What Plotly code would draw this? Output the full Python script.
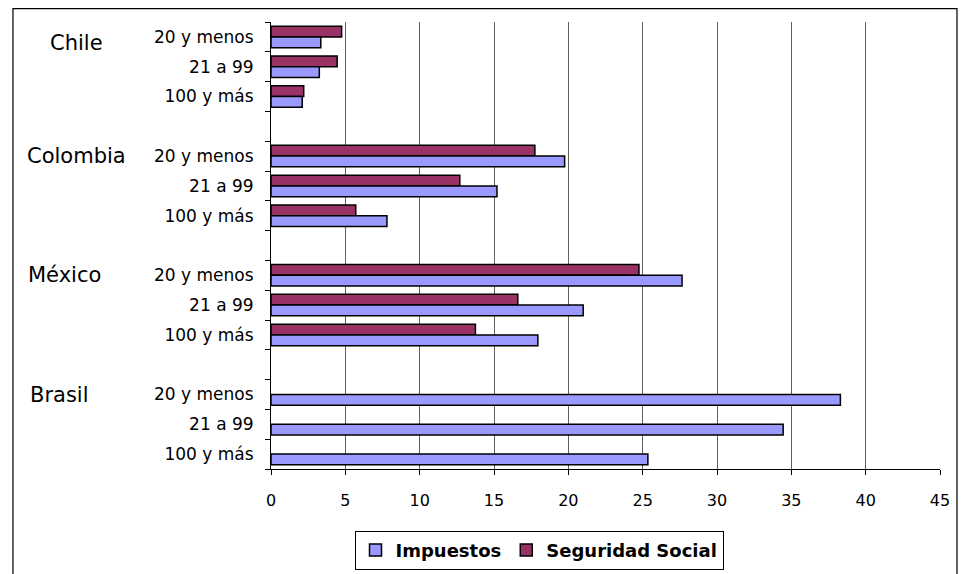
import plotly.graph_objects as go

countries = ["Chile", "Colombia", "México", "Brasil"]
sizes = ["20 y menos", "21 a 99", "100 y más"]

# values in order Chile, Colombia, México, Brasil; each: 20 y menos, 21 a 99, 100 y más
impuestos = [3.35, 3.25, 2.1,
             19.75, 15.2, 7.8,
             27.65, 21.0, 17.95,
             38.3, 34.45, 25.35]
seguridad_social = [4.75, 4.45, 2.2,
                    17.75, 12.7, 5.7,
                    24.75, 16.6, 13.75,
                    None, None, None]

# slot positions: each country uses 3 slots + 1 blank slot between groups
ypos = []
ticktext = []
for ci, c in enumerate(countries):
    for si, s in enumerate(sizes):
        ypos.append(ci * 4 + si)
        ticktext.append(s)
nslots = len(countries) * 4 - 1  # 15 slots: 0..14

font = "DejaVu Sans, Liberation Sans, Arial, sans-serif"

fig = go.Figure()
fig.add_trace(go.Bar(
    name="Seguridad Social", y=ypos, x=seguridad_social, orientation="h",
    marker=dict(color="#993366", line=dict(color="black", width=1.5)),
    legendrank=2,
))
fig.add_trace(go.Bar(
    name="Impuestos", y=ypos, x=impuestos, orientation="h",
    marker=dict(color="#9999FF", line=dict(color="black", width=1.5)),
    legendrank=1,
))

# country labels
country_x = [-0.333, -0.368, -0.366, -0.363]
country_y = [0.2, 4.0, 8.0, 12.0]
for c, xx, yy in zip(countries, country_x, country_y):
    fig.add_annotation(text=c, x=xx, y=yy, xref="paper", yref="y",
                       xanchor="left", yanchor="middle", showarrow=False,
                       font=dict(family=font, size=21, color="black"))

# outer chart frame
fig.add_shape(type="rect", xref="paper", yref="paper",
              x0=-0.3857, x1=1.0254, y0=-0.30, y1=1.0298,
              line=dict(color="black", width=1.2), fillcolor="rgba(0,0,0,0)")

fig.update_layout(
    width=970, height=574,
    margin=dict(l=263, r=38, t=14, b=109),
    paper_bgcolor="white", plot_bgcolor="white",
    barmode="group", bargap=0.28, bargroupgap=0,
    font=dict(family=font, color="black"),
    showlegend=True,
    legend=dict(orientation="h", x=0.4006, y=-0.182, xanchor="center", yanchor="middle",
                bordercolor="black", borderwidth=1, bgcolor="white",
                font=dict(family=font, size=18, color="black", weight="bold"),
                itemwidth=30, traceorder="normal"),
    xaxis=dict(range=[0, 45], dtick=5, tick0=0, showgrid=True, gridcolor="#606060",
               gridwidth=1, zeroline=False, showline=True, linecolor="black",
               linewidth=1, ticks="outside", ticklen=5, tickcolor="black",
               tickfont=dict(family=font, size=16, color="black"),
               ticklabelstandoff=12),
    yaxis=dict(range=[nslots - 0.5, -0.5], tickmode="array", tickvals=ypos,
               ticktext=ticktext, ticks="", showgrid=False, zeroline=False,
               showline=True, linecolor="black", linewidth=1,
               tickfont=dict(family=font, size=17, color="black"),
               ticklabelstandoff=13,
               minor=dict(tickmode="array",
                          tickvals=[i - 0.5 for i in range(nslots + 1)],
                          ticks="outside", ticklen=5, tickcolor="black",
                          showgrid=False)),
)

fig.write_html("out.html")
